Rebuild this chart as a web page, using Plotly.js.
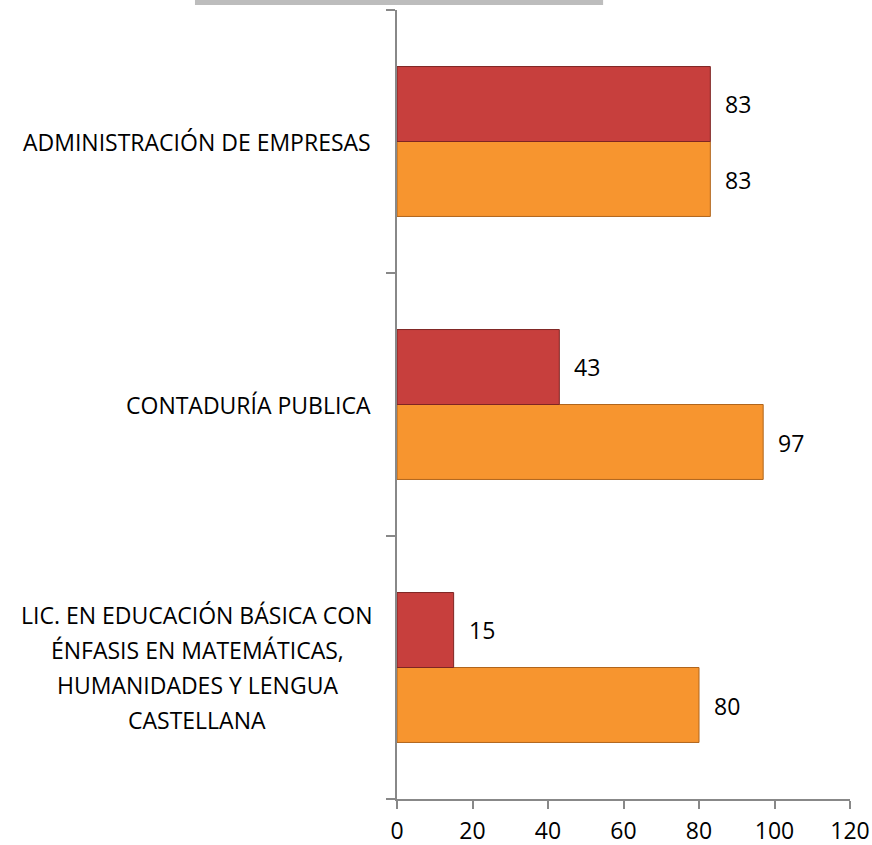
<!DOCTYPE html>
<html><head><meta charset="utf-8">
<script src="https://cdn.plot.ly/plotly-3.0.1.min.js"></script>
<style>html,body{margin:0;padding:0;background:#fff;}#chart{width:872px;height:845px;}</style>
</head><body><div id="chart"></div>
<script>
const categories = ["LIC. EN EDUCACIÓN BÁSICA CON<br>ÉNFASIS EN MATEMÁTICAS,<br>HUMANIDADES Y LENGUA<br>CASTELLANA", "CONTADURÍA PUBLICA", "ADMINISTRACIÓN DE EMPRESAS"];
const redValues = [15, 43, 83];
const orangeValues = [80, 97, 83];
const xTicks = [0, 20, 40, 60, 80, 100, 120];

const FONT = "Open Sans, sans-serif";
const traces = [
  {type:"bar", orientation:"h", y:categories, x:orangeValues, name:"B",
   marker:{color:"#F7952F", line:{color:"#B0651C", width:1}}, hoverinfo:"x"},
  {type:"bar", orientation:"h", y:categories, x:redValues, name:"A",
   marker:{color:"#C73F3D", line:{color:"#7E2523", width:1}}, hoverinfo:"x"}
];

const LINE_H = 34.7;
const finalAnn = [];
const cv = document.createElement("canvas").getContext("2d");
cv.font = "23px 'Open Sans'";
categories.forEach((c,i)=>{
  const lines = c.split("<br>");
  if (lines.length===1){
    finalAnn.push({xref:"paper", yref:"y", x:0, y:c, xanchor:"right", yanchor:"middle",
      xshift:-24, text:c, showarrow:false, font:{family:FONT, size:23, color:"#000"}});
  } else {
    const wmax = Math.max(...lines.map(l=>cv.measureText(l).width));
    lines.forEach((ln,k)=>{
      finalAnn.push({xref:"paper", yref:"y", x:0, y:c, xanchor:"center", yanchor:"middle",
        xshift:-24 - wmax/2, yshift:((lines.length-1)/2 - k)*LINE_H, text:ln, showarrow:false,
        font:{family:FONT, size:23, color:"#000"}});
    });
  }
});
[orangeValues, redValues].forEach((vals, t)=>{
  vals.forEach((v,i)=>{
    finalAnn.push({xref:"x", yref:"y", x:v, y:categories[i], xanchor:"left", yanchor:"middle",
      xshift:13, yshift:(t===0?-38:38), text:String(v), showarrow:false,
      font:{family:FONT, size:23, color:"#000"}});
  });
});

const layout = {
  width:872, height:845,
  margin:{l:397, r:22, t:10, b:46, pad:0},
  paper_bgcolor:"#fff", plot_bgcolor:"#fff",
  barmode:"group", bargap:0.43, bargroupgap:0,
  showlegend:false,
  font:{family:FONT, size:23, color:"#000"},
  xaxis:{range:[0,120], tickvals:xTicks, ticktext:xTicks.map(String), showgrid:false, zeroline:false,
    showline:true, linecolor:"#888", linewidth:2, ticks:"outside", ticklen:8, tickwidth:2, tickcolor:"#888",
    ticklabelstandoff:2,
    tickfont:{family:FONT, size:23, color:"#000"}, fixedrange:true},
  yaxis:{type:"category", categoryorder:"array", categoryarray:categories, range:[-0.5,2.5],
    showticklabels:false, showgrid:false, zeroline:false, showline:true, linecolor:"#888", linewidth:2,
    ticks:"outside", tickson:"boundaries", ticklen:9, tickwidth:2, tickcolor:"#888", fixedrange:true},
  annotations:finalAnn,
  shapes:[{type:"rect", xref:"paper", yref:"paper", x0:-0.446, x1:0.455, y0:1.0063, y1:1.02,
    fillcolor:"#bdbdbd", line:{width:0}, layer:"above"}]
};
document.fonts.load("23px 'Open Sans'").finally(()=>{
  Plotly.newPlot("chart", traces, layout, {displayModeBar:false, staticPlot:true});
});
</script></body></html>
